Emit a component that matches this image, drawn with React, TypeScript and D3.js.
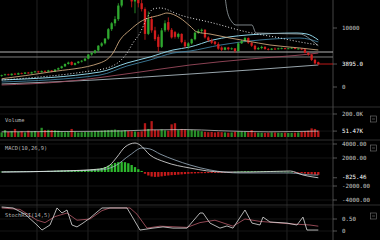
import React from 'react';
import * as d3 from 'd3';

type C = [number, number, number, number];
// [open, high, low, close]
const candles: C[] = [
  [1850, 2100, 1750, 2000], [2000, 2250, 1950, 2150], [2150, 2250, 1950, 2000], [2000, 2300, 1950, 2250], [2250, 2400, 2050, 2100],
  [2100, 2450, 2050, 2350], [2350, 2450, 2150, 2250], [2250, 2550, 2200, 2450], [2450, 2550, 2250, 2300], [2300, 2600, 2250, 2500],
  [2500, 2750, 2400, 2650], [2650, 2750, 2400, 2500], [2500, 2800, 2450, 2700], [2700, 2850, 2550, 2600], [2600, 2900, 2550, 2800],
  [2800, 2850, 2500, 2600], [2600, 3050, 2550, 2950], [2950, 3300, 2900, 3200], [3200, 3600, 3100, 3500], [3500, 4000, 3400, 3900],
  [3900, 4300, 3800, 4150], [4250, 4350, 3650, 3750], [3750, 4150, 3650, 4050], [4050, 4400, 3950, 4300], [4300, 4550, 4150, 4450],
  [4450, 4900, 4350, 4800], [4800, 5600, 4700, 5500], [5500, 5900, 5300, 5800], [5800, 6300, 5600, 6200], [6200, 7100, 6000, 7000],
  [7000, 7600, 6800, 7400], [7400, 8300, 7200, 8200], [8200, 10000, 8000, 9800], [9800, 11000, 9500, 10800], [10800, 12000, 10300, 11500],
  [11500, 14200, 11200, 13800], [13800, 17500, 13500, 16500], [16500, 19500, 15500, 18500], [18500, 19000, 15500, 16500], [16500, 17500, 13500, 14500],
  [14500, 16500, 12500, 15800], [15800, 17000, 13500, 14200], [14200, 15500, 12800, 13200], [13200, 13500, 8000, 9000], [9000, 12800, 8800, 11500],
  [11500, 12000, 9200, 9600], [9600, 10200, 7800, 8100], [8500, 8900, 6000, 6800], [6800, 10000, 6600, 9600], [9600, 11300, 9300, 10800],
  [11000, 11800, 9400, 9700], [9700, 10000, 8200, 8400], [9300, 9500, 8200, 8500], [8500, 9200, 8200, 9000], [9000, 9100, 7400, 7600],
  [7600, 8000, 6600, 6900], [6900, 7600, 6500, 7400], [7400, 8200, 7200, 8100], [8100, 9400, 7900, 9200], [9200, 9800, 9000, 9500],
  [9500, 9900, 9100, 9700], [9700, 9800, 8200, 8400], [8400, 8600, 7700, 7900], [7900, 8200, 7300, 7500], [7700, 7800, 7100, 7300],
  [7300, 7600, 6300, 6500], [6700, 6900, 6100, 6300], [6300, 6800, 6200, 6700], [6700, 6800, 6200, 6400], [6400, 6700, 6300, 6550],
  [6550, 6600, 5800, 6100], [6100, 7600, 6000, 7400], [7400, 8000, 7300, 7800], [7800, 8500, 7600, 8300], [8300, 8400, 7300, 7500],
  [7500, 7600, 6800, 7000], [7000, 7200, 6200, 6400], [6400, 6800, 6300, 6600], [6600, 7000, 6400, 6800], [6800, 6900, 6300, 6450],
  [6450, 6600, 6200, 6300], [6300, 6600, 6250, 6500], [6500, 6700, 6300, 6400], [6400, 6650, 6350, 6550], [6550, 6700, 6400, 6600],
  [6600, 6650, 6350, 6450], [6450, 6650, 6400, 6550], [6550, 6750, 6450, 6650], [6650, 6700, 6400, 6450], [6450, 6600, 6350, 6500],
  [6500, 6550, 6250, 6350], [6400, 6500, 5700, 5800], [5800, 5900, 5300, 5500], [5500, 5600, 4400, 4600], [4600, 4800, 3800, 4000],
  [4200, 4300, 3700, 3895],
];

const volumes: number[] = [
  40, 60, 45, 50, 70, 45, 50, 40, 55, 48,
  52, 45, 80, 60, 62, 60, 58, 55, 45, 42,
  48, 70, 45, 40, 42, 44, 45, 46, 50, 52,
  55, 58, 60, 62, 65, 60, 55, 58, 52, 50,
  48, 45, 50, 120, 70, 138, 62, 60, 65, 58,
  55, 110, 120, 60, 70, 65, 60, 62, 58, 55,
  50, 45, 42, 44, 40, 45, 42, 40, 38, 40,
  45, 48, 46, 44, 42, 60, 40, 38, 37, 36,
  38, 40, 39, 37, 36, 38, 35, 36, 38, 40,
  45, 50, 55, 75, 70, 55,
];

const macdHist: number[] = [
  50, 80, 60, 90, 100, 80, 110, 120, 100, 130,
  120, 140, 150, 130, 160, 150, 180, 200, 220, 200,
  230, 210, 250, 240, 260, 280, 300, 350, 400, 450,
  550, 700, 900, 1100, 1300, 1400, 1450, 1400, 1250, 1000,
  700, 400, 150, -250, -500, -650, -700, -680, -620, -550,
  -500, -450, -420, -380, -340, -300, -260, -220, -200, -180,
  -170, -160, -150, -140, -130, -120, -100, -80, -50, -20,
  30, 60, 90, 110, 120, 110, 100, 90, 100, 110,
  100, 90, 80, 70, 60, 50, 40, 20, -30, -80,
  -150, -220, -280, -330, -380, -400,
];

type P = [number, number];
const tanMA: P[] = [[0, 1400], [14.5, 2540], [29.5, 4070], [33.4, 5760], [35.5, 7970], [38.5, 9660], [41.5, 11020], [47.5, 12200], [49.6, 12540], [53.5, 11700], [56.5, 10340], [58.6, 9320], [62.5, 8980], [68.5, 8300], [73.6, 7800], [80.5, 7120], [89.5, 6610], [95, 6270]];
const dotMA: P[] = [[0, 1190], [11.5, 1700], [24.4, 2540], [32.5, 3390], [37.6, 5760], [39.4, 7460], [41.5, 9150], [43.6, 11700], [45.4, 13220], [47.5, 13390], [53.5, 12200], [63.4, 10850], [73.6, 9320], [83.5, 8310], [89.5, 7630], [95, 7120]];
const cyanMA: P[] = [[0, 1190], [29.5, 2540], [37.6, 4070], [44.5, 5090], [51.4, 6270], [56.5, 6780], [63.4, 7970], [73.6, 8810], [88.6, 9150], [91.6, 8980], [95, 7970]];
const blueMA: P[] = [[0, 850], [29.5, 2030], [37.6, 3560], [44.5, 4580], [51.4, 5760], [56.5, 6100], [65.5, 7100], [77.5, 7970], [89.5, 8300], [95, 7630]];
const pinkMA: P[] = [[0, 340], [17.5, 850], [41.5, 2540], [56.5, 3730], [74.5, 4750], [92.5, 5590], [95, 5760]];
const grayMA: P[] = [[0, 510], [28, 1190], [56.5, 2200], [74.5, 2880], [95, 3730]];
const upperBand: P[] = [[66.8, 16500], [67.6, 13050], [69.1, 11020], [70.3, 10510], [75.1, 10510], [76.3, 9150], [89.5, 8980], [94, 7460], [95, 7000]];
const levels: number[] = [5930, 5085];
const lastPrice = 3895;

const volMA: P[] = [[0, 45], [20, 48], [35, 52], [45, 62], [55, 65], [65, 55], [80, 45], [95, 51.47]];
const macdLine: P[] = [[0, 0], [17.5, 140], [29.5, 430], [32.5, 1000], [34.6, 2140], [37, 3570], [40, 4140], [41.5, 3860], [44.5, 2430], [49, 1430], [56.5, 570], [66.4, 0], [74.5, 0], [86.6, 140], [90.4, -430], [93.4, -710], [95, -825]];
const signalLine: P[] = [[0, 0], [29.5, 290], [34, 860], [38.5, 2430], [42.1, 3430], [44.5, 3290], [47.5, 2570], [52, 1710], [56.5, 1000], [62.5, 290], [71.5, -140], [86.5, -140], [93.4, -430], [95, -430]];
const stochK: P[] = [[0, 1], [3.4, 0.96], [7, 0.7], [10.6, 0.25], [12.1, 0.04], [14.5, 0.25], [16.6, 0.96], [18.1, 0.75], [19.6, 0.875], [21.1, 0.25], [22.6, 0.17], [24.4, 0.33], [26.5, 0.54], [28.6, 0.79], [30.1, 0.96], [37.6, 0.96], [39.4, 0.54], [41.5, 0.04], [45.4, 0.12], [48.4, 0.17], [51.4, 0.12], [55.6, 0.12], [59.5, 0.75], [60.4, 0.75], [62.5, 0.33], [65.5, 0.12], [67.6, 0.21], [69.4, 0.12], [73, 0.875], [75.1, 0.33], [77.5, 0.25], [78.4, 0.58], [80.5, 0.375], [85.6, 0.33], [88.6, 0.25], [90.4, 0.58], [91.6, 0.04], [95, 0.04]];
const stochD: P[] = [[0, 0.96], [5.5, 0.9], [10.6, 0.45], [13, 0.35], [16, 0.6], [19.6, 0.75], [22.6, 0.45], [26.5, 0.5], [30.1, 0.85], [32.5, 0.96], [38.5, 0.96], [40.6, 0.7], [43.6, 0.12], [47.5, 0.2], [55.6, 0.15], [59.5, 0.35], [64, 0.45], [69.4, 0.2], [73, 0.5], [77.5, 0.4], [86.5, 0.3], [92.5, 0.25], [95, 0.2]];

const gridIdx: number[] = [10.6, 25.9, 40.9, 55.9, 70.9, 85.6];
const mainTicks: [number, string][] = [[10000, '10000'], [3895, '3895.0'], [0, '0']];
const volTicks: [number, string][] = [[200, '200.0K'], [51.47, '51.47K']];
const macdTicks: [number, string][] = [[4000, '4000.00'], [2000, '2000.00'], [-825.46, '-825.46'], [-2000, '-2000.00'], [-4000, '-4000.00']];
const stochTicks: [number, string][] = [[0.5, '0.50'], [0, '0']];

const GREEN = '#2fa82f';
const RED = '#d41c1c';
const AX = 333;
const FONT = 'DejaVu Sans Mono, monospace';

export default function App() {
  const W = 380, H = 240;
  const x = d3.scaleLinear().domain([0, 95]).range([1.67, 318.3]);
  const yP = d3.scaleLinear().domain([0, 10000]).range([87, 28]);
  const yV = d3.scaleLinear().domain([0, 200]).range([137, 114]);
  const yM = d3.scaleLinear().domain([-4000, 4000]).range([200, 144]);
  const yS = d3.scaleLinear().domain([0, 0.5]).range([231, 219]);
  const bw = 2.3;

  const mk = (ys: d3.ScaleLinear<number, number>, curve: d3.CurveFactory = d3.curveMonotoneX) =>
    d3.line<P>().x(d => x(d[0])).y(d => ys(d[1])).curve(curve);

  const lineP = mk(yP);
  const panelLabel = (t: string, y: number) => (
    <text x={5} y={y} fill="#b8b8b8" fontSize={5.4} fontFamily={FONT} dominantBaseline="middle">{t}</text>
  );
  const axisLabels = (ticks: [number, string][], ys: d3.ScaleLinear<number, number>, hi?: string) =>
    ticks.map(([v, t]) => (
      <g key={t}>
        <line x1={AX} x2={AX + 4} y1={ys(v)} y2={ys(v)} stroke="#777" strokeWidth={0.7} />
        <text x={342} y={ys(v)} fill={t === hi ? '#ffffff' : '#c8c8c8'} fontSize={5.8} fontFamily={FONT} dominantBaseline="middle">{t}</text>
      </g>
    ));
  const icon = (y: number) => (
    <g>
      <rect x={370.5} y={y - 3} width={6} height={6} fill="none" stroke="#777" strokeWidth={0.6} />
      <line x1={372} x2={375} y1={y} y2={y} stroke="#777" strokeWidth={0.6} />
    </g>
  );

  return (
    <div style={{ position: 'fixed', left: 0, top: 0, width: W, height: H, background: '#000' }}>
      <svg width={W} height={H} style={{ display: 'block' }}>
        <defs>
          <clipPath id="cMain"><rect x={0} y={0} width={AX} height={106} /></clipPath>
          <clipPath id="cVol"><rect x={0} y={108} width={AX} height={31} /></clipPath>
          <clipPath id="cMacd"><rect x={0} y={141} width={AX} height={63} /></clipPath>
          <clipPath id="cSto"><rect x={0} y={206} width={AX} height={34} /></clipPath>
        </defs>
        <rect width={W} height={H} fill="#000" />
        {/* vertical grid */}
        {gridIdx.map(g => (
          <line key={g} x1={x(g)} x2={x(g)} y1={0} y2={H} stroke="#2a2a2a" strokeWidth={0.8} />
        ))}
        {/* horizontal grid */}
        {[...volTicks.map(t => yV(t[0])), ...[4000, 2000, -2000, -4000].map(v => yM(v)), ...stochTicks.map(t => yS(t[0])), yS(1)].map((y, i) => (
          <line key={'h' + i} x1={0} x2={AX} y1={y} y2={y} stroke="#1c1c1c" strokeWidth={0.7} />
        ))}
        {/* separators */}
        {[107, 140, 205].map(y => (
          <line key={y} x1={0} x2={W} y1={y} y2={y} stroke="#3a3a3a" strokeWidth={0.8} />
        ))}
        <line x1={AX} x2={AX} y1={0} y2={H} stroke="#555" strokeWidth={0.8} />

        {/* MAIN */}
        <g clipPath="url(#cMain)">
          {levels.map((l, i) => (
            <line key={l} x1={0} x2={AX} y1={yP(l)} y2={yP(l)} stroke={i === 0 ? '#c8c8c8' : '#8a8a8a'} strokeWidth={0.9} />
          ))}
          <path d={lineP(grayMA) || ''} fill="none" stroke="#a9b8c0" strokeWidth={0.9} />
          <path d={lineP(pinkMA) || ''} fill="none" stroke="#9a4a5c" strokeWidth={0.9} />
          <path d={lineP(blueMA) || ''} fill="none" stroke="#3f7f9f" strokeWidth={0.9} />
          <path d={lineP(cyanMA) || ''} fill="none" stroke="#8fd3e6" strokeWidth={1} />
          <path d={lineP(upperBand) || ''} fill="none" stroke="#9aa4a8" strokeWidth={0.8} />
          {candles.map((c, i) => {
            const [o, h, l, cl] = c;
            const up = cl >= o;
            const col = up ? GREEN : RED;
            const top = yP(Math.max(o, cl));
            const bot = yP(Math.min(o, cl));
            return (
              <g key={i}>
                <line x1={x(i)} x2={x(i)} y1={yP(h)} y2={yP(l)} stroke={col} strokeWidth={0.8} />
                <rect x={x(i) - bw / 2} y={top} width={bw} height={Math.max(0.8, bot - top)} fill={col} />
              </g>
            );
          })}
          <path d={lineP(tanMA) || ''} fill="none" stroke="#c9a47a" strokeWidth={0.9} />
          <path d={lineP(dotMA) || ''} fill="none" stroke="#e6e6e6" strokeWidth={1} strokeDasharray="1,2" />
          <line x1={x(95)} x2={AX} y1={yP(lastPrice)} y2={yP(lastPrice)} stroke={RED} strokeWidth={0.9} />
        </g>
        {axisLabels(mainTicks, yP, '3895.0')}

        {/* VOLUME */}
        <g clipPath="url(#cVol)">
          {volumes.map((v, i) => {
            const up = candles[i][3] >= candles[i][0];
            return (
              <rect key={i} x={x(i) - bw / 2} y={yV(v)} width={bw} height={yV(0) - yV(v)} fill={up ? GREEN : RED} opacity={0.85} />
            );
          })}
          <path d={mk(yV)(volMA) || ''} fill="none" stroke="#d8d8d8" strokeWidth={0.7} />
        </g>
        {panelLabel('Volume', 121)}
        {axisLabels(volTicks, yV, '51.47K')}
        {icon(119)}

        {/* MACD */}
        <g clipPath="url(#cMacd)">
          {macdHist.map((v, i) => (
            <rect key={i} x={x(i) - bw / 2} y={Math.min(yM(v), yM(0))} width={bw} height={Math.max(0.6, Math.abs(yM(v) - yM(0)))} fill={v >= 0 ? '#2db82d' : '#c41a1a'} />
          ))}
          <path d={mk(yM)(signalLine) || ''} fill="none" stroke="#9fb4c4" strokeWidth={0.8} />
          <path d={mk(yM)(macdLine) || ''} fill="none" stroke="#e8e8e8" strokeWidth={0.8} />
        </g>
        {panelLabel('MACD(10,26,9)', 149)}
        {axisLabels(macdTicks, yM, '-825.46')}
        {icon(148)}

        {/* STOCH RSI */}
        <g clipPath="url(#cSto)">
          <path d={mk(yS, d3.curveLinear)(stochD) || ''} fill="none" stroke="#b85a6a" strokeWidth={0.8} />
          <path d={mk(yS, d3.curveLinear)(stochK) || ''} fill="none" stroke="#e0e0e0" strokeWidth={0.8} />
        </g>
        {panelLabel('StochRSI(14,5)', 216)}
        {axisLabels(stochTicks, yS)}
        {icon(216)}
      </svg>
    </div>
  );
}
